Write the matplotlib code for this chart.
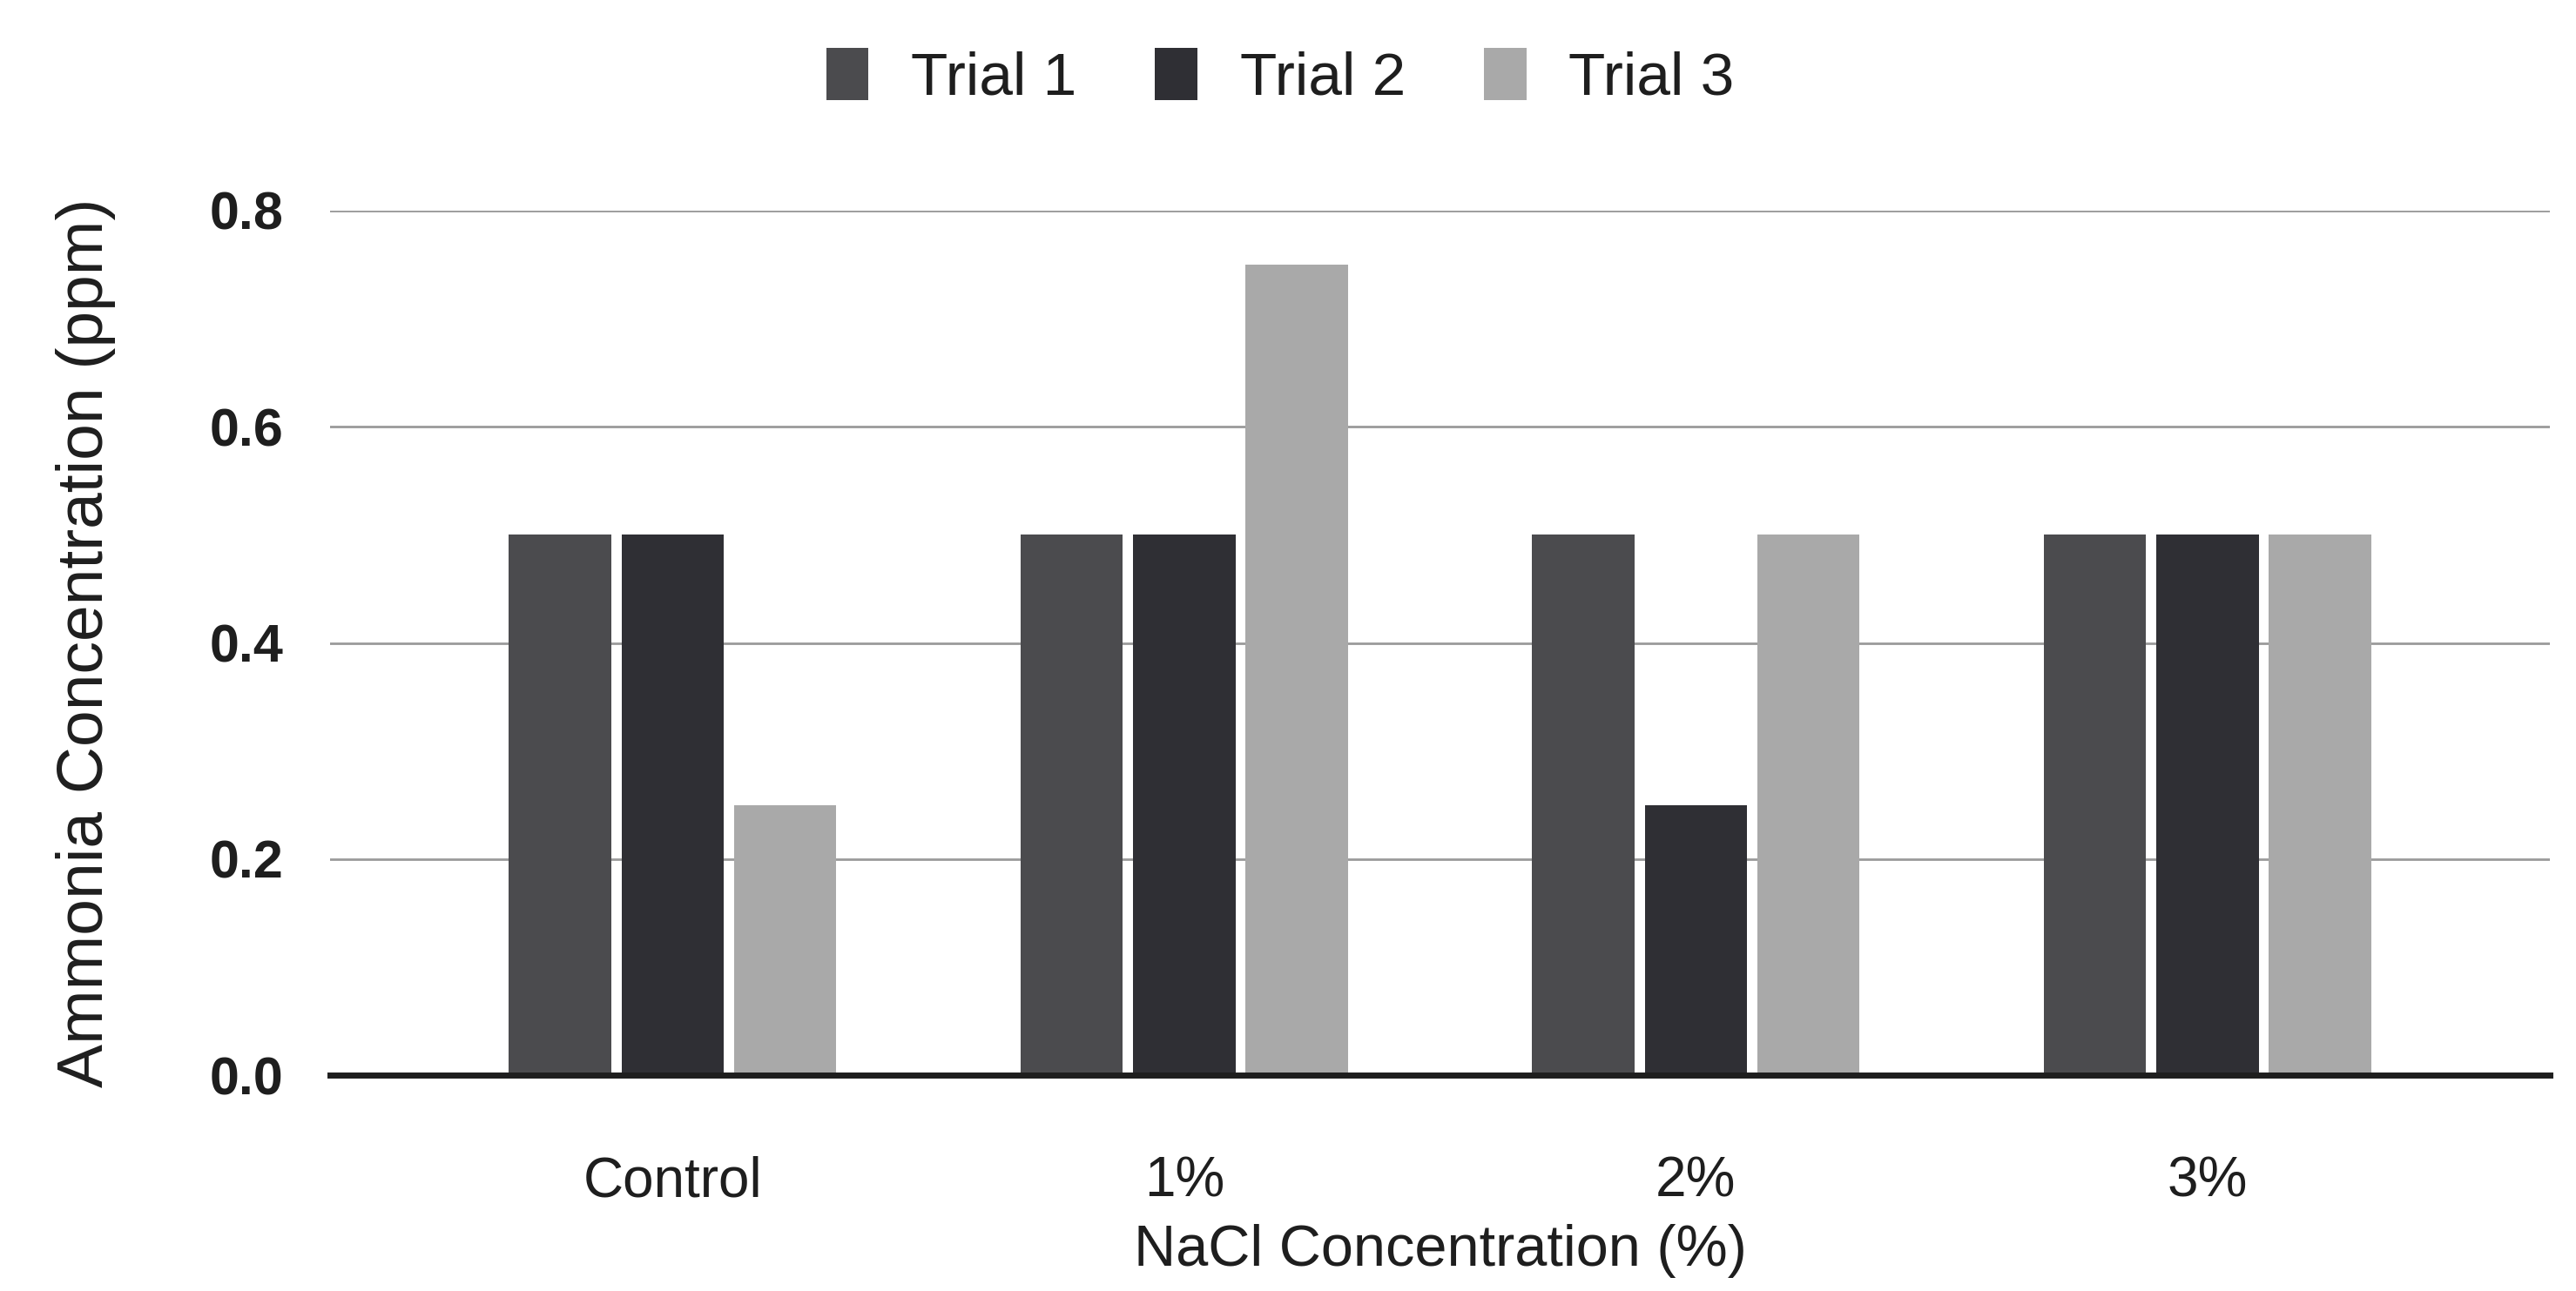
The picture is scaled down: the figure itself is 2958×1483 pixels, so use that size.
import numpy as np
import matplotlib.pyplot as plt

plt.rcParams['font.family'] = ['Liberation Sans', 'DejaVu Sans']

categories = ["Control", "1%", "2%", "3%"]
trial_1 = [0.50, 0.50, 0.50, 0.50]
trial_2 = [0.50, 0.50, 0.25, 0.50]
trial_3 = [0.25, 0.75, 0.50, 0.50]
series = [("Trial 1", trial_1, "#4b4b4e"),
          ("Trial 2", trial_2, "#2f2f34"),
          ("Trial 3", trial_3, "#a9a9a9")]

fig = plt.figure(figsize=(29.58, 14.83), dpi=100)
ax = fig.add_axes([0.128, 0.167, 0.862, 0.670])

x = np.arange(len(categories))
width = 0.2
step = 0.22
for i, (name, vals, col) in enumerate(series):
    ax.bar(x + (i - 1) * step, vals, width, color=col, label=name, zorder=3)

ax.set_xlim(-0.67, 3.67)
ax.set_ylim(0, 0.8)
ax.set_yticks([0, 0.2, 0.4, 0.6, 0.8])
ax.set_yticklabels(["0.0", "0.2", "0.4", "0.6", "0.8"], fontweight='bold')
ax.set_xticks(x)
ax.set_xticklabels(categories)

ax.grid(axis='y', color='#9a9a9a', linewidth=2, zorder=0)
ax.set_axisbelow(True)
for s in ['top', 'right', 'left']:
    ax.spines[s].set_visible(False)
ax.spines['bottom'].set_color('#1e1e1e')
ax.spines['bottom'].set_linewidth(5)
ax.spines['bottom'].set_zorder(4)
ax.tick_params(axis='both', length=0, labelsize=44, colors='#1e1e1e')
ax.tick_params(axis='y', pad=38)
ax.tick_params(axis='x', pad=66, labelsize=46)

ax.set_xlabel("NaCl Concentration (%)", fontsize=48, color='#1e1e1e', labelpad=14)
ax.set_ylabel("Ammonia Concentration (ppm)", fontsize=54, color='#1e1e1e', labelpad=78)

fig.legend(loc='center', bbox_to_anchor=(0.497, 0.94), ncol=3, frameon=False,
           fontsize=50, handlelength=0.7, handleheight=0.95, columnspacing=1.3,
           handletextpad=0.7, labelcolor='#1e1e1e')

fig.savefig("out.png", dpi=100, facecolor='white')
